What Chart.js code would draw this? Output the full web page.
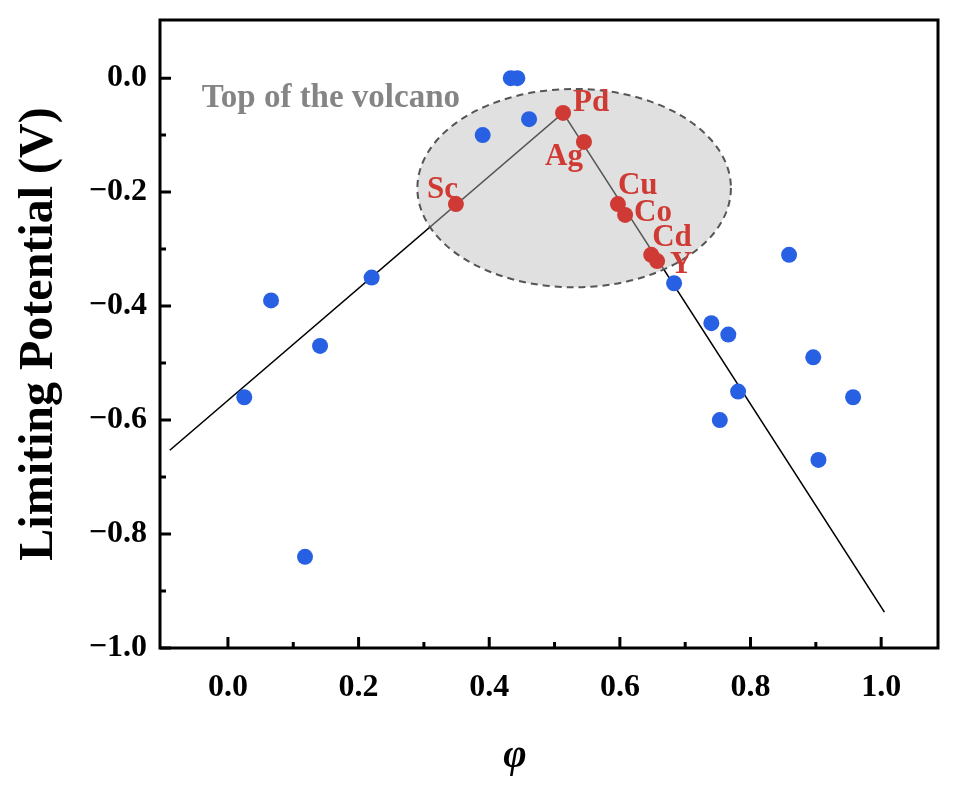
<!DOCTYPE html>
<html>
<head>
<meta charset="utf-8">
<script src="https://cdn.jsdelivr.net/npm/chart.js@4/dist/chart.umd.min.js"></script>
<style>
html,body{margin:0;padding:0;background:#fff;}
canvas{display:block;}
</style>
</head>
<body>
<canvas id="c" width="961" height="795"></canvas>
<script>
// ---- data ----
const blueX = [0.025, 0.066, 0.118, 0.141, 0.220, 0.390, 0.433, 0.443, 0.461, 0.683, 0.740, 0.766, 0.781, 0.753, 0.859, 0.896, 0.904, 0.957];
const blueY = [-0.56, -0.39, -0.84, -0.47, -0.35, -0.10, 0.00, 0.00, -0.072, -0.36, -0.43, -0.45, -0.55, -0.60, -0.31, -0.49, -0.67, -0.56];
const redNames = ['Sc', 'Pd', 'Ag', 'Cu', 'Co', 'Cd', 'Y'];
const redX = [0.349, 0.513, 0.545, 0.597, 0.608, 0.648, 0.657];
const redY = [-0.221, -0.061, -0.112, -0.221, -0.240, -0.310, -0.321];
const lineX = [-0.089, 0.513, 1.005];
const lineY = [-0.653, -0.061, -0.937];
const ellipseCenter = [0.530, -0.193];
const ellipseRadii = [0.240, 0.174];
const annotationText = 'Top of the volcano';
const annotationPos = [-0.040, -0.035];
const xTicks = [0.0, 0.2, 0.4, 0.6, 0.8, 1.0];
const xMinorTicks = [0.1, 0.3, 0.5, 0.7, 0.9];
const yTicks = [0.0, -0.2, -0.4, -0.6, -0.8, -1.0];
const yMinorTicks = [-0.1, -0.3, -0.5, -0.7, -0.9];
const xRange = [-0.104, 1.087];
const yRange = [-1.0, 0.102];

// label offsets in px (style)
const labelOffsets = {
  Sc: {dx: 2, dy: -14, align: 'right'},
  Pd: {dx: 10, dy: -10, align: 'left'},
  Ag: {dx: -1, dy: 15, align: 'right'},
  Cu: {dx: 0, dy: -18, align: 'left'},
  Co: {dx: 9, dy: -2, align: 'left'},
  Cd: {dx: 1, dy: -17, align: 'left'},
  Y:  {dx: 13, dy: 4, align: 'left'}
};

const RED = '#cf3b34';
const BLUE = '#2760e3';
const SERIF = '"Liberation Serif", "Times New Roman", serif';

const decor = {
  id: 'decor',
  afterDatasetDraw(chart, args) {
    if (args.index !== 0) return;
    const {ctx, scales: {x, y}} = chart;
    const cx = x.getPixelForValue(ellipseCenter[0]);
    const cy = y.getPixelForValue(ellipseCenter[1]);
    const rx = Math.abs(x.getPixelForValue(ellipseCenter[0] + ellipseRadii[0]) - cx);
    const ry = Math.abs(y.getPixelForValue(ellipseCenter[1] + ellipseRadii[1]) - cy);
    ctx.save();
    ctx.beginPath();
    ctx.ellipse(cx, cy, rx, ry, 0, 0, Math.PI * 2);
    ctx.fillStyle = 'rgba(187,187,187,0.46)';
    ctx.fill();
    ctx.setLineDash([7, 5]);
    ctx.lineWidth = 2;
    ctx.strokeStyle = '#555';
    ctx.stroke();
    ctx.restore();
  },
  afterDatasetsDraw(chart) {
    const {ctx, scales: {x, y}} = chart;
    ctx.save();
    ctx.font = 'bold 33px ' + SERIF;
    ctx.fillStyle = '#858585';
    ctx.textAlign = 'left';
    ctx.textBaseline = 'middle';
    ctx.fillText(annotationText, x.getPixelForValue(annotationPos[0]), y.getPixelForValue(annotationPos[1]));
    ctx.font = 'bold 31px ' + SERIF;
    ctx.fillStyle = RED;
    redNames.forEach((n, i) => {
      const o = labelOffsets[n];
      ctx.textAlign = o.align;
      ctx.fillText(n, x.getPixelForValue(redX[i]) + o.dx, y.getPixelForValue(redY[i]) + o.dy);
    });
    ctx.restore();
  },
  afterDraw(chart) {
    const {ctx, chartArea: a, scales: {x, y}} = chart;
    ctx.save();
    ctx.strokeStyle = '#000';
    ctx.lineWidth = 3;
    ctx.strokeRect(a.left, a.top, a.right - a.left, a.bottom - a.top);
    ctx.beginPath();
    xTicks.forEach(v => { const p = x.getPixelForValue(v); ctx.moveTo(p, a.bottom); ctx.lineTo(p, a.bottom - 11); });
    xMinorTicks.forEach(v => { const p = x.getPixelForValue(v); ctx.moveTo(p, a.bottom); ctx.lineTo(p, a.bottom - 6); });
    yTicks.forEach(v => { const p = y.getPixelForValue(v); ctx.moveTo(a.left, p); ctx.lineTo(a.left + 11, p); });
    yMinorTicks.forEach(v => { const p = y.getPixelForValue(v); ctx.moveTo(a.left, p); ctx.lineTo(a.left + 6, p); });
    ctx.stroke();
    ctx.fillStyle = '#000';
    ctx.textAlign = 'center';
    ctx.textBaseline = 'middle';
    ctx.font = 'italic bold 40px ' + SERIF;
    ctx.fillText('φ', 515, 757);
    ctx.translate(40, (a.top + a.bottom) / 2);
    ctx.rotate(-Math.PI / 2);
    ctx.font = 'bold 48px ' + SERIF;
    ctx.fillText('Limiting Potential (V)', 0, 0);
    ctx.restore();
  }
};

const fmt = v => {
  const s = Math.abs(v).toFixed(1);
  return v < -1e-9 ? '\u2212' + s : s;
};

new Chart(document.getElementById('c'), {
  type: 'scatter',
  data: {
    datasets: [
      {
        data: lineX.map((v, i) => ({x: v, y: lineY[i]})),
        showLine: true, borderColor: '#000', borderWidth: 1.6, pointRadius: 0, fill: false, order: 3
      },
      {
        data: blueX.map((v, i) => ({x: v, y: blueY[i]})),
        backgroundColor: BLUE, borderWidth: 0, pointRadius: 8, order: 2
      },
      {
        data: redX.map((v, i) => ({x: v, y: redY[i]})),
        backgroundColor: RED, borderWidth: 0, pointRadius: 8, order: 1
      }
    ]
  },
  options: {
    responsive: false,
    animation: false,
    layout: {padding: {left: 0, top: 20, right: 23, bottom: 0}},
    plugins: {legend: {display: false}, tooltip: {enabled: false}},
    scales: {
      x: {
        type: 'linear', min: xRange[0], max: xRange[1],
        grid: {display: false, drawTicks: false},
        border: {display: false},
        afterBuildTicks: s => { s.ticks = xTicks.map(v => ({value: v})); },
        afterFit: s => { s.height = 147; s.paddingLeft = 0; s.paddingRight = 0; },
        ticks: {
          padding: 21, color: '#000',
          font: {family: SERIF, size: 32, weight: 'bold'},
          callback: v => fmt(v), maxRotation: 0, autoSkip: false
        }
      },
      y: {
        type: 'linear', min: yRange[0], max: yRange[1],
        grid: {display: false, drawTicks: false},
        border: {display: false},
        afterBuildTicks: s => { s.ticks = yTicks.map(v => ({value: v})); },
        afterFit: s => { s.width = 160; s.paddingTop = 0; s.paddingBottom = 0; },
        ticks: {
          padding: 13, color: '#000',
          font: {family: SERIF, size: 32, weight: 'bold'},
          callback: v => fmt(v), autoSkip: false
        }
      }
    }
  },
  plugins: [decor]
});
</script>
</body>
</html>
